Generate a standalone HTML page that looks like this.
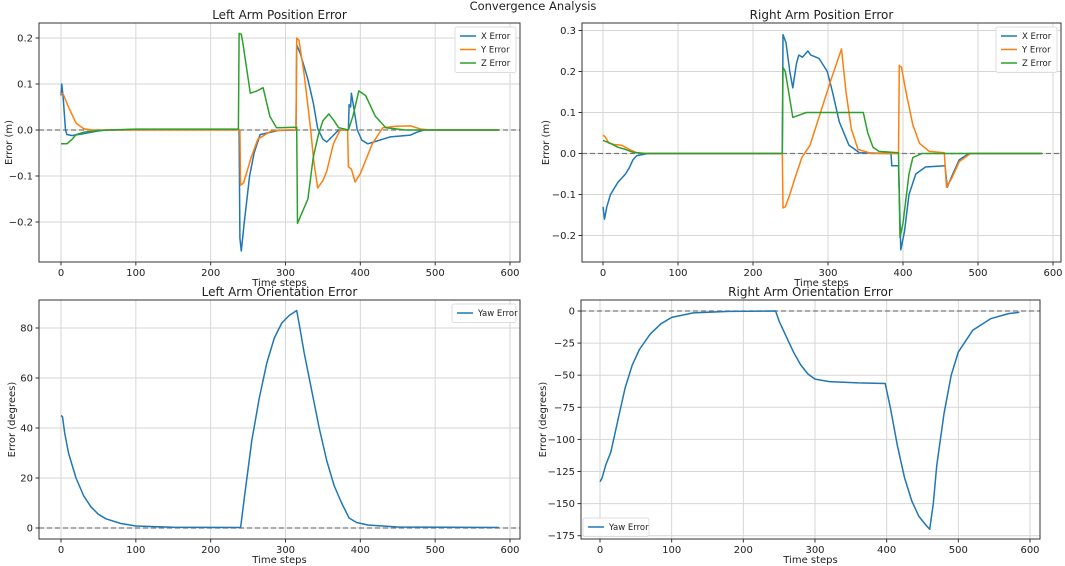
<!DOCTYPE html>
<html><head><meta charset="utf-8"><style>
body{margin:0;background:#fff;}
svg{display:block;font-family:"DejaVu Sans","Liberation Sans",sans-serif;}
</style></head><body>
<svg id="fig" width="1065" height="566" viewBox="0 0 1065 566">
<text x="533" y="10" text-anchor="middle" font-size="11.5" fill="#222">Convergence Analysis</text>
</svg>
<script>
// ---- data ----
const tlX=[[0,0.075],[1,0.1],[3,0.07],[6,0.0],[8,-0.01],[15,-0.012],[30,-0.008],[50,-0.002],[60,0],[238,0.001],[239,-0.235],[241,-0.263],[245,-0.2],[252,-0.1],[258,-0.05],[266,-0.01],[290,-0.001],[314,0],[315,0.185],[320,0.165],[330,0.11],[337,0.06],[343,0.003],[350,-0.02],[355,-0.026],[362,-0.015],[371,0],[384,0],[385,0.055],[387,0.05],[388,0.08],[390,0.06],[396,0],[402,-0.022],[410,-0.03],[420,-0.025],[440,-0.015],[467,-0.011],[475,-0.005],[485,0],[585,0]];
const tlY=[[0,0.08],[3,0.078],[10,0.05],[20,0.015],[30,0.003],[40,0],[239,0],[240,-0.12],[244,-0.115],[254,-0.06],[263,-0.02],[281,-0.002],[300,0],[314,0],[315,0.2],[318,0.195],[325,0.12],[333,0.01],[338,-0.07],[343,-0.126],[350,-0.11],[355,-0.09],[364,-0.03],[373,0],[383,0],[384,-0.08],[388,-0.085],[393,-0.113],[400,-0.095],[416,-0.03],[430,0.005],[448,0.008],[467,0.009],[481,0.002],[495,0],[585,0]];
const tlZ=[[0,-0.03],[8,-0.03],[15,-0.02],[20,-0.01],[30,-0.005],[50,-0.001],[100,0.002],[237,0.002],[238,0.21],[241,0.208],[243,0.19],[253,0.08],[262,0.085],[270,0.092],[279,0.03],[288,0.005],[315,0.006],[316,-0.203],[322,-0.18],[330,-0.15],[337,-0.06],[344,-0.01],[350,0.02],[358,0.035],[365,0.02],[371,0.005],[384,0],[390,0.03],[398,0.085],[407,0.075],[420,0.03],[434,0.005],[460,0],[585,0]];
const trX=[[0,-0.13],[2,-0.16],[5,-0.13],[10,-0.1],[20,-0.07],[30,-0.05],[35,-0.035],[40,-0.015],[45,-0.005],[60,0],[239,0],[240,0.29],[244,0.27],[249,0.2],[253,0.16],[258,0.22],[261,0.24],[266,0.235],[273,0.25],[277,0.24],[288,0.232],[299,0.2],[306,0.15],[315,0.077],[328,0.02],[342,0.002],[384,0],[385,-0.03],[394,-0.03],[397,-0.235],[402,-0.19],[408,-0.1],[417,-0.05],[430,-0.033],[456,-0.03],[459,-0.082],[464,-0.06],[475,-0.015],[488,0],[585,0]];
const trY=[[0,0.045],[3,0.04],[8,0.025],[15,0.022],[25,0.02],[35,0.01],[45,0.002],[60,0],[239,0],[240,-0.133],[243,-0.13],[249,-0.1],[256,-0.06],[265,-0.01],[276,0.02],[290,0.1],[304,0.18],[318,0.255],[324,0.15],[331,0.06],[340,0.01],[358,0],[394,0],[395,0.215],[398,0.21],[404,0.15],[413,0.07],[422,0.025],[435,0.005],[455,0.002],[458,-0.082],[465,-0.06],[475,-0.02],[490,0],[585,0]];
const trZ=[[0,0.032],[10,0.025],[20,0.015],[30,0.01],[40,0.003],[55,0],[239,0],[240,0.21],[243,0.2],[253,0.088],[271,0.1],[318,0.1],[347,0.1],[353,0.05],[360,0.015],[368,0.005],[394,0.002],[396,-0.205],[400,-0.17],[408,-0.05],[413,-0.01],[425,0],[585,0]];
const blYaw=[[0,45],[2,44.5],[5,38],[10,30],[20,20],[30,13],[40,8.5],[50,5.5],[60,3.7],[80,1.8],[100,0.8],[150,0.3],[240,0.2],[245,12],[255,35],[265,52],[275,66],[285,76],[295,82],[305,85],[315,87],[318,82],[325,70],[335,55],[345,40],[355,27],[365,17],[375,10],[385,4],[395,2.2],[410,1.2],[450,0.4],[585,0.2]];
const brYaw=[[0,-133],[3,-130],[8,-120],[15,-110],[25,-85],[35,-60],[45,-42],[55,-30],[70,-18],[85,-10],[100,-5],[130,-1.5],[180,-0.3],[245,0],[250,-8],[260,-20],[270,-32],[280,-42],[290,-49],[300,-53],[320,-55],[360,-56],[398,-56.5],[405,-75],[415,-105],[425,-130],[435,-148],[445,-160],[455,-167],[460,-170],[465,-150],[470,-120],[480,-80],[490,-50],[500,-32],[520,-15],[545,-6],[570,-2],[585,-1]];
const xTicks=[0,100,200,300,400,500,600];
const tlTicks=[0.2,0.1,0.0,-0.1,-0.2];
const tlTickLabels=["0.2","0.1","0.0","\u22120.1","\u22120.2"];
const trTicks=[0.3,0.2,0.1,0.0,-0.1,-0.2];
const trTickLabels=["0.3","0.2","0.1","0.0","\u22120.1","\u22120.2"];
const blTicks=[0,20,40,60,80];
const blTickLabels=["0","20","40","60","80"];
const brTicks=[0,-25,-50,-75,-100,-125,-150,-175];
const brTickLabels=["0","\u221225","\u221250","\u221275","\u2212100","\u2212125","\u2212150","\u2212175"];

const NS="http://www.w3.org/2000/svg";
const svg=document.getElementById('fig');
const C={x:'#1f77b4',y:'#ff7f0e',z:'#2ca02c'};
function mk(tag,attrs,parent){const e=document.createElementNS(NS,tag);for(const k in attrs)e.setAttribute(k,attrs[k]);(parent||svg).appendChild(e);return e;}

function panel(p){
  const g=mk('g',{});
  
  
  const sx=t=>p.x0+(t-0)*(p.x600-p.x0)/600;
  const sy=v=>p.py0+(v-p.v0)*(p.py1-p.py0)/(p.v1-p.v0);
  xTicks.forEach(t=>{const gl=mk('line',{x1:sx(t),x2:sx(t),y1:p.T,y2:p.B,stroke:'#d6d6d6','stroke-width':1},g);
    });
  p.yt.forEach(v=>{const gl=mk('line',{x1:p.L,x2:p.R,y1:sy(v),y2:sy(v),stroke:'#d6d6d6','stroke-width':1},g);
    });
  const z=mk('line',{x1:p.L,x2:p.R,y1:sy(0),y2:sy(0),stroke:'#777','stroke-width':1.3,'stroke-dasharray':'5,3'},g);
  
  p.series.forEach(s=>{
    const d=s.data.map((pt,i)=>(i?'L':'M')+sx(pt[0]).toFixed(1)+','+sy(pt[1]).toFixed(1)).join(' ');
    const path=mk('path',{d:d,fill:'none',stroke:s.color,'stroke-width':1.5,'stroke-linejoin':'round'},g);
    
  });
  const fr=mk('rect',{x:p.L,y:p.T,width:p.R-p.L,height:p.B-p.T,fill:'none',stroke:'#333','stroke-width':1},g);
  
  xTicks.forEach(t=>{mk('line',{x1:sx(t),x2:sx(t),y1:p.B,y2:p.B+3.5,stroke:'#333'},g);
    const tx=mk('text',{x:sx(t),y:p.B+14,'text-anchor':'middle','font-size':10,fill:'#222'},g);tx.textContent=t;
    });
  p.yt.forEach((v,i)=>{mk('line',{x1:p.L-3.5,x2:p.L,y1:sy(v),y2:sy(v),stroke:'#333'},g);
    const tx=mk('text',{x:p.L-6,y:sy(v)+3.5,'text-anchor':'end','font-size':10,fill:'#222'},g);tx.textContent=p.ytl[i];
    });
  const ti=mk('text',{x:(p.L+p.R)/2,y:p.T-4,'text-anchor':'middle','font-size':12,fill:'#222'},g);ti.textContent=p.title;
  
  const xl=mk('text',{x:(p.L+p.R)/2,y:p.B+24,'text-anchor':'middle','font-size':10,fill:'#222'},g);xl.textContent='Time steps';
  
  const yc=(p.T+p.B)/2;
  const yl=mk('text',{x:p.ylx,y:yc,'text-anchor':'middle','font-size':10,fill:'#222',transform:`rotate(-90 ${p.ylx} ${yc})`},g);yl.textContent=p.ylabel;
  
  const lg=mk('g',{},g);
  const n=p.series.length,lh=13.5;
  mk('rect',{x:p.lx,y:p.ly,width:p.lw,height:n*lh+5,fill:'#fff','fill-opacity':0.85,stroke:'#ddd',rx:2},lg);
  p.series.forEach((s,i)=>{const yy=p.ly+9+i*lh;
    mk('line',{x1:p.lx+5,x2:p.lx+21,y1:yy,y2:yy,stroke:s.color,'stroke-width':1.5},lg);
    const t=mk('text',{x:p.lx+26,y:yy+3.2,'font-size':8.5,fill:'#222'},lg);t.textContent=s.label;
    });
}
panel({name:'left-arm-position-panel',title:'Left Arm Position Error',L:39,R:520,T:23,B:262,x0:61,x600:510,v0:0,py0:130,v1:0.1,py1:84,yt:tlTicks,ytl:tlTickLabels,ylabel:'Error (m)',ylx:12,
  series:[{data:tlX,color:C.x,label:'X Error',name:'x-error-line'},{data:tlY,color:C.y,label:'Y Error',name:'y-error-line'},{data:tlZ,color:C.z,label:'Z Error',name:'z-error-line'}],lx:455,ly:27,lw:61});
panel({name:'right-arm-position-panel',title:'Right Arm Position Error',L:582,R:1061,T:23,B:262,x0:603,x600:1053,v0:0,py0:153.5,v1:0.1,py1:112.5,yt:trTicks,ytl:trTickLabels,ylabel:'Error (m)',ylx:549,
  series:[{data:trX,color:C.x,label:'X Error',name:'x-error-line'},{data:trY,color:C.y,label:'Y Error',name:'y-error-line'},{data:trZ,color:C.z,label:'Z Error',name:'z-error-line'}],lx:996,ly:27,lw:61});
panel({name:'left-arm-orientation-panel',title:'Left Arm Orientation Error',L:39,R:520,T:300,B:539,x0:61,x600:510,v0:0,py0:528,v1:20,py1:478,yt:blTicks,ytl:blTickLabels,ylabel:'Error (degrees)',ylx:15,
  series:[{data:blYaw,color:C.x,label:'Yaw Error',name:'yaw-error-line'}],lx:452,ly:304,lw:64});
panel({name:'right-arm-orientation-panel',title:'Right Arm Orientation Error',L:581,R:1040,T:300,B:539,x0:600,x600:1030,v0:0,py0:311,v1:-25,py1:343.1,yt:brTicks,ytl:brTickLabels,ylabel:'Error (degrees)',ylx:546,
  series:[{data:brYaw,color:C.x,label:'Yaw Error',name:'yaw-error-line'}],lx:583,ly:518,lw:66});
</script>
</body></html>
